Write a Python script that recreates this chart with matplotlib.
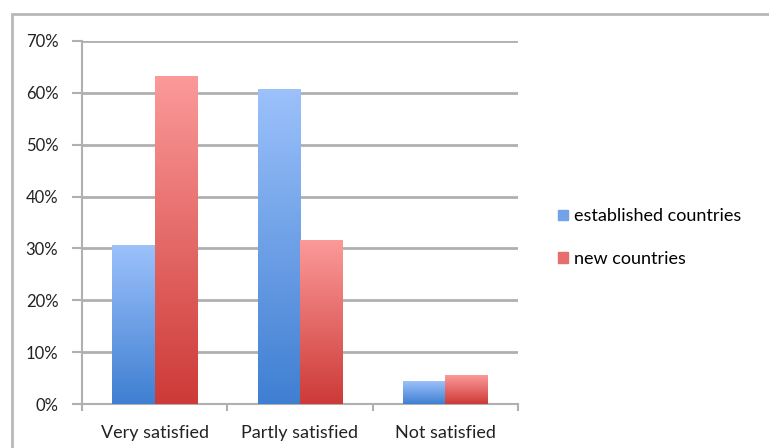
"""
Satisfaction by country group, grouped bars with Excel-style gradient fill.
"""
import matplotlib
import matplotlib.pyplot as plt
import numpy as np
from matplotlib.colors import LinearSegmentedColormap
from matplotlib.patches import Rectangle

matplotlib.use("Agg")

categories = ["Very satisfied", "Partly satisfied", "Not satisfied"]
established = [30.5, 60.7, 4.4]
new = [63.1, 31.6, 5.4]
series_names = ["established countries", "new countries"]
y_ticks = [0, 10, 20, 30, 40, 50, 60, 70]

blue_cmap = LinearSegmentedColormap.from_list("b", ["#3f7fd2", "#9cc1fb"])
red_cmap = LinearSegmentedColormap.from_list("r", ["#cd3a37", "#fb9a99"])

plt.rcParams["font.family"] = ["Lato", "DejaVu Sans"]

fig = plt.figure(figsize=(7.69, 4.48), dpi=100)
ax = fig.add_axes([0.1066, 0.0982, 0.5670, 0.8103])

# chart border
fig.patches.append(Rectangle((12 / 769, -0.05), 1.1, 1 - 14 / 448 + 0.05,
                             transform=fig.transFigure, fill=False,
                             edgecolor="#b8b8b8", linewidth=2.0))

x = np.arange(len(categories))
width = 0.29
grad = np.linspace(0, 1, 256).reshape(-1, 1)


def gradient_bars(xs, values, cmap, label):
    for xi, v in zip(xs, values):
        ax.imshow(grad, cmap=cmap, origin="lower", aspect="auto",
                  extent=(xi - width / 2, xi + width / 2, 0, v), zorder=3)
    # invisible proxies for the legend
    ax.bar(xs, values, width, color=cmap(0.45), alpha=0, label=label)


gradient_bars(x - width / 2, established, blue_cmap, series_names[0])
gradient_bars(x + width / 2, new, red_cmap, series_names[1])

ax.set_xlim(-0.5, len(categories) - 0.5)
ax.set_ylim(0, 70)
ax.set_yticks(y_ticks)
ax.set_yticklabels([f"{t}%" for t in y_ticks], fontsize=12, color="#222222")
ax.set_xticks(x)
ax.set_xticklabels(categories, fontsize=13, color="#222222")
ax.tick_params(axis="x", length=0, pad=15)
ax.tick_params(axis="y", length=7, width=1.5, color="#b0b0b0", pad=10)
ax.set_xticks(np.arange(len(categories) + 1) - 0.5, minor=True)
ax.tick_params(axis="x", which="minor", length=5, width=1.5,
               color="#b0b0b0")

ax.yaxis.grid(True, color="#b0b0b0", linewidth=2.0, zorder=1)
ax.set_axisbelow(True)
for side in ["top", "right"]:
    ax.spines[side].set_visible(False)
for side in ["left", "bottom"]:
    ax.spines[side].set_color("#b0b0b0")
    ax.spines[side].set_linewidth(1.5)

handles = [Rectangle((0, 0), 1, 1, color=blue_cmap(0.55)),
           Rectangle((0, 0), 1, 1, color=red_cmap(0.55))]
fig.legend(handles, series_names, loc="center left",
           bbox_to_anchor=(0.705, 0.47), frameon=False, fontsize=13,
           handlelength=0.55, handleheight=0.55, handletextpad=0.3,
           labelspacing=1.45)

plt.savefig("out.png", dpi=100)
plt.close()
